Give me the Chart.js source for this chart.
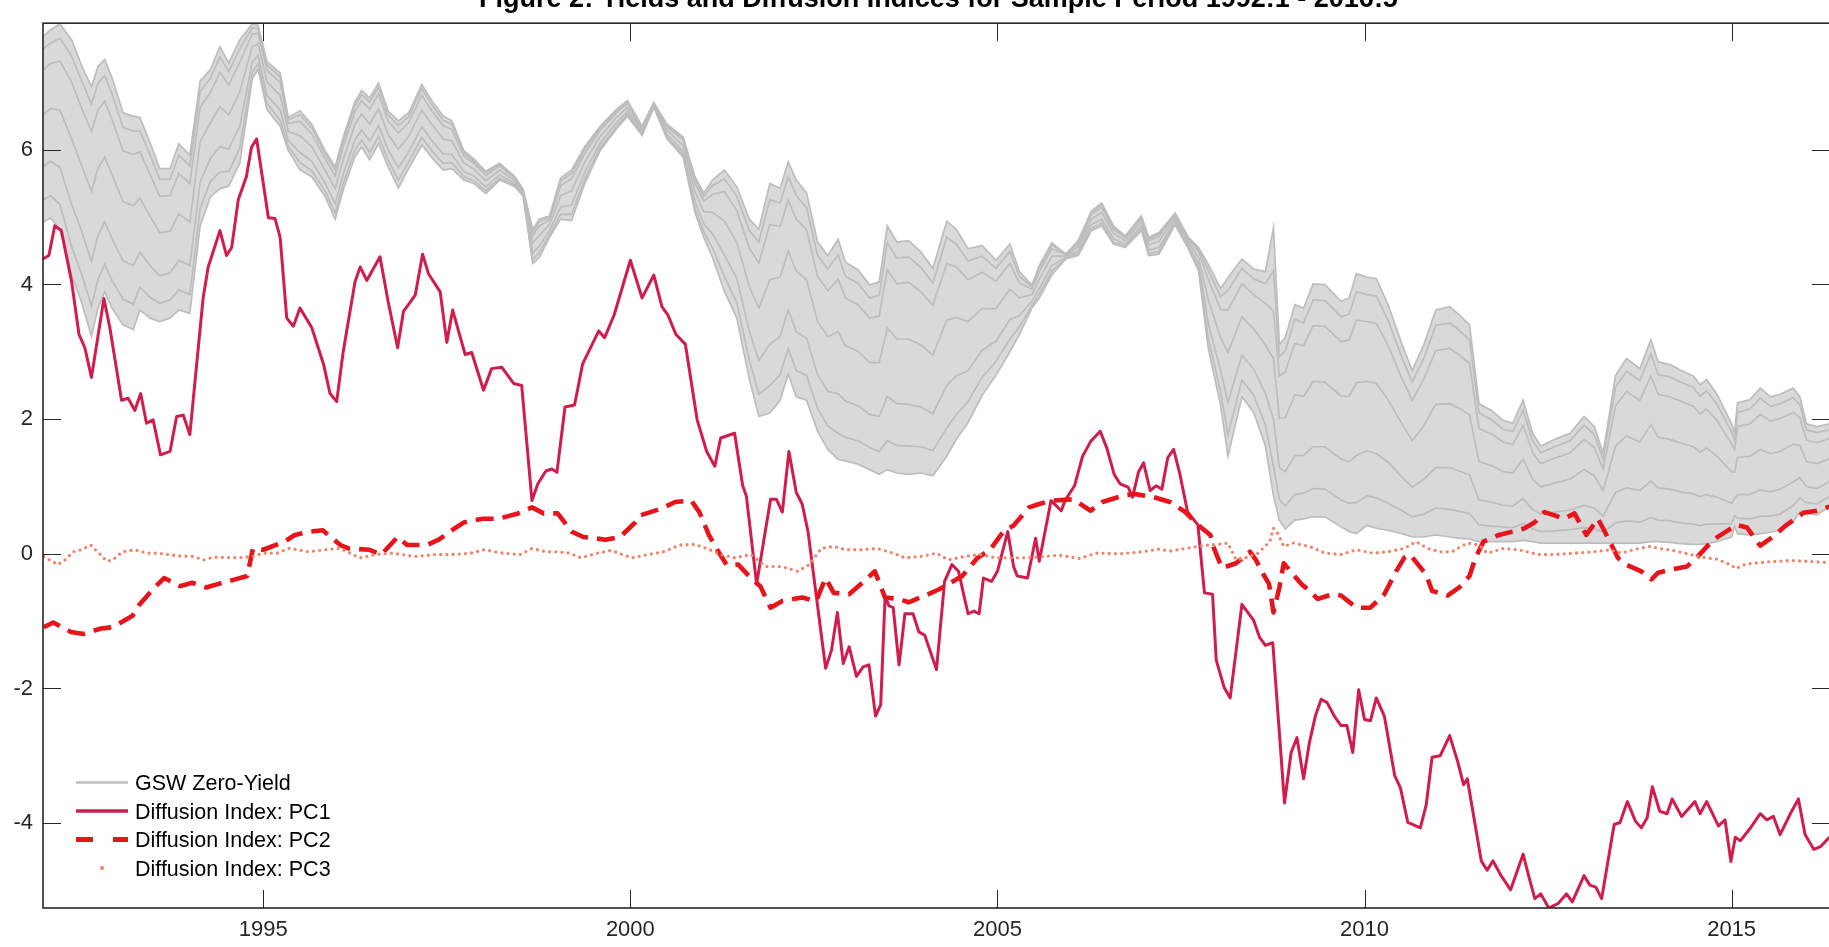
<!DOCTYPE html>
<html>
<head>
<meta charset="utf-8">
<script src="https://cdn.jsdelivr.net/npm/chart.js@4.4.1/dist/chart.umd.min.js"></script>
<style>
  html, body { margin: 0; padding: 0; background: #ffffff; overflow: hidden; }
  #chart { position: absolute; left: 0; top: 0; }
</style>
</head>
<body>
<canvas id="chart" width="1840" height="947" style="width:1840px;height:947px"></canvas>
<script>
// ---- axis ticks ----
const xTickYears = [1995, 2000, 2005, 2010, 2015];
const yTickValues = [-4, -2, 0, 2, 4, 6];

const titleText = 'Figure 2: Yields and Diffusion Indices for Sample Period 1992:1 - 2016:5';

// ---- GSW zero-coupon yields (percent), shortest to longest maturity ----
const yieldDates = [
  1992.00, 1992.10, 1992.23, 1992.39, 1992.53, 1992.66, 1992.75, 1992.84, 1992.94, 1993.09,
  1993.23, 1993.32, 1993.46, 1993.59, 1993.73, 1993.85, 1994.00, 1994.14, 1994.28, 1994.41,
  1994.53, 1994.68, 1994.85, 1994.93, 1995.05, 1995.23, 1995.34, 1995.50, 1995.66, 1995.84,
  1995.98, 1996.09, 1996.25, 1996.34, 1996.45, 1996.57, 1996.70, 1996.84, 1996.98, 1997.16,
  1997.30, 1997.45, 1997.57, 1997.73, 1997.87, 1998.03, 1998.22, 1998.43, 1998.54, 1998.67,
  1998.76, 1998.90, 1999.05, 1999.20, 1999.38, 1999.59, 1999.81, 1999.96, 2000.16, 2000.32,
  2000.50, 2000.72, 2000.88, 2001.00, 2001.12, 2001.28, 2001.45, 2001.62, 2001.75, 2001.90,
  2002.04, 2002.15, 2002.26, 2002.40, 2002.55, 2002.69, 2002.83, 2002.93, 2003.10, 2003.26,
  2003.39, 2003.50, 2003.63, 2003.79, 2003.96, 2004.12, 2004.31, 2004.44, 2004.60, 2004.79,
  2004.98, 2005.17, 2005.30, 2005.47, 2005.57, 2005.74, 2005.93, 2006.10, 2006.28, 2006.42,
  2006.58, 2006.74, 2006.96, 2007.06, 2007.20, 2007.42, 2007.60, 2007.74, 2007.87, 2008.04,
  2008.14, 2008.33, 2008.49, 2008.65, 2008.76, 2008.84, 2008.92, 2009.05, 2009.17, 2009.30,
  2009.46, 2009.68, 2009.79, 2009.89, 2010.03, 2010.16, 2010.32, 2010.51, 2010.65, 2010.81,
  2010.97, 2011.16, 2011.29, 2011.43, 2011.56, 2011.73, 2011.89, 2012.02, 2012.16, 2012.29,
  2012.40, 2012.59, 2012.80, 2012.99, 2013.13, 2013.25, 2013.42, 2013.57, 2013.75, 2013.90,
  2014.00, 2014.16, 2014.30, 2014.48, 2014.57, 2014.66, 2014.80, 2015.00, 2015.04, 2015.08,
  2015.25, 2015.39, 2015.53, 2015.66, 2015.84, 2015.93, 2016.02, 2016.16, 2016.33
];

const yieldShort = [
  4.92, 4.99, 4.82, 4.14, 3.72, 3.23, 3.65, 3.89, 3.65, 3.40,
  3.33, 3.62, 3.50, 3.45, 3.50, 3.62, 3.57, 4.87, 5.30, 5.42,
  5.46, 5.80, 7.05, 7.20, 6.60, 6.35, 5.99, 5.70, 5.60, 5.31,
  4.97, 5.41, 5.90, 6.04, 5.85, 6.09, 5.75, 5.43, 5.72, 6.07,
  5.88, 5.70, 5.72, 5.55, 5.50, 5.35, 5.55, 5.45, 5.31, 4.31,
  4.40, 4.70, 4.97, 4.95, 5.50, 5.99, 6.31, 6.50, 6.21, 6.63,
  6.16, 5.89, 5.07, 4.70, 4.40, 3.90, 3.50, 2.60, 2.04, 2.09,
  2.28, 2.67, 2.33, 2.28, 1.82, 1.55, 1.40, 1.38, 1.33, 1.25,
  1.18, 1.25, 1.20, 1.18, 1.20, 1.16, 1.45, 1.70, 1.95, 2.35,
  2.65, 3.00, 3.26, 3.65, 3.80, 4.14, 4.38, 4.43, 4.80, 4.87,
  4.60, 4.55, 4.80, 4.43, 4.45, 4.89, 4.53, 4.20, 3.06, 2.20,
  1.45, 2.33, 2.10, 1.60, 0.86, 0.50, 0.37, 0.50, 0.52, 0.55,
  0.55, 0.40, 0.33, 0.30, 0.42, 0.38, 0.35, 0.30, 0.25, 0.25,
  0.28, 0.25, 0.23, 0.22, 0.18, 0.18, 0.18, 0.18, 0.20, 0.18,
  0.16, 0.16, 0.16, 0.16, 0.16, 0.16, 0.16, 0.16, 0.16, 0.18,
  0.18, 0.17, 0.15, 0.14, 0.14, 0.15, 0.18, 0.25, 0.40, 0.30,
  0.28, 0.30, 0.32, 0.35, 0.48, 0.62, 0.60, 0.58, 0.70
];

const yieldMid0 = [
  5.25, 5.32, 5.19, 4.56, 4.14, 3.68, 4.08, 4.30, 4.06, 3.78,
  3.71, 3.96, 3.81, 3.72, 3.77, 3.92, 3.85, 5.13, 5.53, 5.67,
  5.68, 6.02, 7.15, 7.28, 6.69, 6.44, 6.05, 5.81, 5.69, 5.39,
  5.06, 5.50, 6.00, 6.14, 5.96, 6.20, 5.85, 5.55, 5.82, 6.18,
  5.98, 5.80, 5.81, 5.60, 5.54, 5.39, 5.58, 5.47, 5.32, 4.37,
  4.47, 4.74, 5.04, 5.04, 5.57, 6.03, 6.34, 6.53, 6.23, 6.64,
  6.19, 5.93, 5.13, 4.78, 4.54, 4.12, 3.73, 2.88, 2.37, 2.50,
  2.66, 3.05, 2.72, 2.65, 2.16, 1.90, 1.79, 1.73, 1.68, 1.58,
  1.52, 1.68, 1.61, 1.60, 1.59, 1.53, 1.87, 2.07, 2.26, 2.62,
  2.86, 3.19, 3.37, 3.69, 3.86, 4.20, 4.39, 4.46, 4.83, 4.91,
  4.63, 4.57, 4.83, 4.46, 4.49, 4.91, 4.55, 4.24, 3.21, 2.41,
  1.77, 2.58, 2.36, 1.91, 1.30, 0.81, 0.71, 0.88, 0.90, 0.97,
  0.96, 0.80, 0.75, 0.76, 0.86, 0.83, 0.75, 0.64, 0.55, 0.59,
  0.68, 0.66, 0.63, 0.60, 0.43, 0.41, 0.40, 0.39, 0.45, 0.37,
  0.33, 0.34, 0.36, 0.39, 0.37, 0.32, 0.46, 0.49, 0.47, 0.54,
  0.50, 0.49, 0.46, 0.44, 0.42, 0.44, 0.44, 0.45, 0.57, 0.53,
  0.52, 0.56, 0.56, 0.59, 0.72, 0.83, 0.76, 0.74, 0.85
];

const yieldMid1 = [
  5.75, 5.83, 5.74, 5.19, 4.78, 4.34, 4.73, 4.93, 4.68, 4.35,
  4.28, 4.48, 4.28, 4.13, 4.17, 4.36, 4.28, 5.52, 5.87, 6.05,
  6.01, 6.35, 7.30, 7.40, 6.81, 6.59, 6.14, 5.96, 5.83, 5.51,
  5.20, 5.64, 6.15, 6.29, 6.13, 6.36, 6.00, 5.73, 5.97, 6.34,
  6.13, 5.94, 5.93, 5.68, 5.61, 5.45, 5.63, 5.50, 5.34, 4.46,
  4.57, 4.80, 5.15, 5.18, 5.67, 6.10, 6.40, 6.57, 6.25, 6.65,
  6.23, 5.98, 5.23, 4.90, 4.75, 4.44, 4.09, 3.31, 2.87, 3.11,
  3.23, 3.62, 3.30, 3.20, 2.66, 2.41, 2.38, 2.27, 2.20, 2.07,
  2.04, 2.34, 2.23, 2.22, 2.18, 2.08, 2.50, 2.64, 2.72, 3.02,
  3.16, 3.48, 3.54, 3.75, 3.94, 4.28, 4.40, 4.50, 4.89, 4.97,
  4.68, 4.60, 4.87, 4.51, 4.55, 4.94, 4.58, 4.31, 3.43, 2.72,
  2.25, 2.95, 2.74, 2.38, 2.00, 1.28, 1.22, 1.46, 1.46, 1.59,
  1.59, 1.41, 1.37, 1.46, 1.53, 1.49, 1.36, 1.14, 0.99, 1.11,
  1.28, 1.28, 1.23, 1.17, 0.80, 0.77, 0.72, 0.71, 0.82, 0.66,
  0.59, 0.62, 0.65, 0.72, 0.68, 0.56, 0.91, 0.98, 0.94, 1.08,
  0.98, 0.96, 0.92, 0.89, 0.85, 0.88, 0.84, 0.75, 0.82, 0.88,
  0.88, 0.95, 0.92, 0.96, 1.07, 1.13, 1.00, 0.97, 1.07
];

const yieldMid2 = [
  6.52, 6.61, 6.59, 6.16, 5.76, 5.38, 5.73, 5.89, 5.63, 5.23,
  5.17, 5.28, 5.01, 4.77, 4.79, 5.05, 4.93, 6.12, 6.40, 6.64,
  6.52, 6.86, 7.53, 7.58, 7.01, 6.81, 6.27, 6.21, 6.05, 5.70,
  5.42, 5.86, 6.38, 6.53, 6.38, 6.61, 6.23, 6.01, 6.20, 6.59,
  6.37, 6.16, 6.13, 5.81, 5.71, 5.54, 5.70, 5.54, 5.37, 4.61,
  4.73, 4.89, 5.32, 5.39, 5.82, 6.20, 6.48, 6.63, 6.29, 6.67,
  6.29, 6.06, 5.38, 5.08, 5.07, 4.94, 4.63, 3.97, 3.65, 4.07,
  4.11, 4.50, 4.20, 4.07, 3.45, 3.22, 3.30, 3.09, 3.01, 2.84,
  2.84, 3.35, 3.19, 3.19, 3.10, 2.95, 3.47, 3.51, 3.45, 3.64,
  3.64, 3.93, 3.80, 3.85, 4.08, 4.42, 4.42, 4.56, 4.97, 5.07,
  4.76, 4.65, 4.93, 4.59, 4.64, 4.99, 4.63, 4.40, 3.78, 3.21,
  2.99, 3.52, 3.34, 3.10, 2.90, 2.01, 2.02, 2.36, 2.34, 2.56,
  2.55, 2.34, 2.34, 2.54, 2.56, 2.53, 2.29, 1.93, 1.68, 1.91,
  2.22, 2.23, 2.16, 2.06, 1.37, 1.31, 1.22, 1.20, 1.41, 1.11,
  0.99, 1.05, 1.11, 1.25, 1.16, 0.94, 1.60, 1.75, 1.66, 1.92,
  1.73, 1.70, 1.65, 1.59, 1.51, 1.57, 1.45, 1.22, 1.21, 1.43,
  1.45, 1.55, 1.49, 1.52, 1.63, 1.61, 1.37, 1.34, 1.41
];

const yieldMid3 = [
  7.18, 7.28, 7.32, 7.00, 6.61, 6.27, 6.59, 6.72, 6.45, 5.98,
  5.93, 5.97, 5.63, 5.31, 5.32, 5.65, 5.50, 6.63, 6.85, 7.15,
  6.96, 7.30, 7.72, 7.73, 7.18, 7.00, 6.39, 6.42, 6.24, 5.87,
  5.61, 6.05, 6.57, 6.73, 6.60, 6.83, 6.43, 6.25, 6.40, 6.81,
  6.57, 6.36, 6.30, 5.91, 5.80, 5.62, 5.76, 5.57, 5.39, 4.73,
  4.87, 4.96, 5.47, 5.57, 5.95, 6.29, 6.55, 6.69, 6.32, 6.69,
  6.34, 6.14, 5.50, 5.24, 5.34, 5.38, 5.10, 4.54, 4.32, 4.89,
  4.86, 5.25, 4.97, 4.81, 4.12, 3.91, 4.08, 3.80, 3.70, 3.50,
  3.53, 4.22, 4.01, 4.03, 3.89, 3.69, 4.31, 4.26, 4.07, 4.18,
  4.05, 4.31, 4.02, 3.93, 4.19, 4.53, 4.44, 4.61, 5.04, 5.15,
  4.82, 4.69, 4.98, 4.65, 4.71, 5.03, 4.67, 4.49, 4.08, 3.63,
  3.62, 4.01, 3.85, 3.72, 3.60, 2.64, 2.70, 3.12, 3.09, 3.39,
  3.38, 3.15, 3.18, 3.47, 3.45, 3.42, 3.10, 2.60, 2.28, 2.60,
  3.02, 3.05, 2.95, 2.83, 1.86, 1.78, 1.66, 1.62, 1.91, 1.50,
  1.34, 1.42, 1.50, 1.70, 1.58, 1.26, 2.20, 2.41, 2.28, 2.64,
  2.37, 2.33, 2.27, 2.19, 2.08, 2.15, 1.98, 1.63, 1.55, 1.89,
  1.93, 2.07, 1.97, 2.01, 2.10, 2.02, 1.69, 1.65, 1.71
];

const yieldMid4 = [
  7.49, 7.58, 7.66, 7.39, 7.01, 6.68, 6.99, 7.10, 6.83, 6.33,
  6.28, 6.28, 5.92, 5.56, 5.56, 5.92, 5.76, 6.87, 7.06, 7.38,
  7.16, 7.50, 7.81, 7.80, 7.26, 7.08, 6.45, 6.52, 6.33, 5.94,
  5.70, 6.14, 6.66, 6.82, 6.71, 6.93, 6.52, 6.36, 6.49, 6.91,
  6.66, 6.44, 6.38, 5.96, 5.83, 5.66, 5.78, 5.59, 5.40, 4.78,
  4.93, 5.00, 5.54, 5.65, 6.01, 6.32, 6.58, 6.71, 6.34, 6.70,
  6.36, 6.17, 5.56, 5.31, 5.47, 5.57, 5.31, 4.80, 4.63, 5.26,
  5.21, 5.60, 5.32, 5.14, 4.43, 4.23, 4.44, 4.12, 4.02, 3.80,
  3.84, 4.62, 4.39, 4.41, 4.25, 4.02, 4.70, 4.60, 4.35, 4.42,
  4.24, 4.49, 4.12, 3.97, 4.25, 4.59, 4.45, 4.63, 5.07, 5.19,
  4.85, 4.71, 5.00, 4.68, 4.75, 5.05, 4.69, 4.53, 4.21, 3.82,
  3.91, 4.24, 4.08, 4.01, 4.20, 2.93, 3.01, 3.48, 3.43, 3.77,
  3.76, 3.52, 3.56, 3.89, 3.85, 3.83, 3.47, 2.91, 2.55, 2.91,
  3.39, 3.43, 3.32, 3.18, 2.09, 1.99, 1.85, 1.82, 2.13, 1.68,
  1.50, 1.59, 1.68, 1.91, 1.77, 1.41, 2.48, 2.71, 2.57, 2.97,
  2.66, 2.63, 2.55, 2.47, 2.34, 2.42, 2.22, 1.81, 1.70, 2.10,
  2.15, 2.31, 2.19, 2.23, 2.32, 2.21, 1.84, 1.80, 1.84
];

const yieldLong = [
  7.68, 7.78, 7.87, 7.63, 7.24, 6.94, 7.24, 7.34, 7.07, 6.55,
  6.50, 6.48, 6.10, 5.72, 5.72, 6.09, 5.92, 7.02, 7.19, 7.53,
  7.29, 7.63, 7.87, 7.85, 7.31, 7.14, 6.48, 6.58, 6.38, 5.99,
  5.75, 6.19, 6.72, 6.88, 6.77, 6.99, 6.58, 6.43, 6.55, 6.97,
  6.72, 6.50, 6.43, 5.99, 5.86, 5.68, 5.80, 5.60, 5.41, 4.82,
  4.97, 5.02, 5.58, 5.70, 6.05, 6.35, 6.60, 6.73, 6.35, 6.70,
  6.38, 6.19, 5.60, 5.36, 5.55, 5.70, 5.45, 4.97, 4.82, 5.50,
  5.43, 5.82, 5.55, 5.36, 4.63, 4.43, 4.67, 4.33, 4.22, 3.99,
  4.04, 4.87, 4.63, 4.65, 4.48, 4.24, 4.94, 4.82, 4.53, 4.58,
  4.36, 4.60, 4.19, 3.99, 4.28, 4.62, 4.45, 4.65, 5.09, 5.21,
  4.87, 4.72, 5.02, 4.70, 4.77, 5.06, 4.70, 4.55, 4.30, 3.94,
  4.10, 4.38, 4.23, 4.19, 4.84, 3.11, 3.21, 3.70, 3.65, 4.01,
  4.00, 3.75, 3.80, 4.16, 4.11, 4.09, 3.70, 3.11, 2.72, 3.11,
  3.62, 3.67, 3.55, 3.40, 2.23, 2.13, 1.98, 1.94, 2.28, 1.79,
  1.60, 1.70, 1.79, 2.04, 1.89, 1.50, 2.65, 2.90, 2.75, 3.18,
  2.85, 2.81, 2.73, 2.64, 2.51, 2.59, 2.37, 1.93, 1.80, 2.24,
  2.29, 2.46, 2.33, 2.37, 2.46, 2.33, 1.93, 1.89, 1.93
];

// ---- diffusion indices: [date, value] ----
const pc1 = [
  [1992.00, 4.38], [1992.08, 4.43], [1992.16, 4.87], [1992.25, 4.80], [1992.39, 4.04],
  [1992.49, 3.26], [1992.57, 3.06], [1992.66, 2.62], [1992.83, 3.79], [1992.91, 3.36],
  [1993.07, 2.28], [1993.16, 2.31], [1993.25, 2.13], [1993.33, 2.38], [1993.41, 1.94],
  [1993.50, 1.99], [1993.60, 1.47], [1993.73, 1.52], [1993.82, 2.04], [1993.91, 2.06],
  [1994.00, 1.77], [1994.18, 3.79], [1994.25, 4.26], [1994.41, 4.80], [1994.50, 4.43],
  [1994.57, 4.55], [1994.66, 5.26], [1994.77, 5.60], [1994.84, 6.04], [1994.91, 6.16],
  [1995.07, 4.99], [1995.16, 4.98], [1995.23, 4.70], [1995.32, 3.50], [1995.41, 3.38],
  [1995.50, 3.65], [1995.66, 3.36], [1995.82, 2.82], [1995.91, 2.38], [1996.00, 2.26],
  [1996.09, 3.01], [1996.25, 4.04], [1996.32, 4.26], [1996.41, 4.06], [1996.59, 4.41],
  [1996.70, 3.75], [1996.83, 3.06], [1996.91, 3.60], [1997.07, 3.84], [1997.17, 4.45],
  [1997.25, 4.16], [1997.41, 3.89], [1997.50, 3.14], [1997.58, 3.62], [1997.75, 2.96],
  [1997.84, 2.99], [1998.00, 2.43], [1998.11, 2.75], [1998.25, 2.77], [1998.41, 2.53],
  [1998.52, 2.50], [1998.66, 0.79], [1998.74, 1.04], [1998.85, 1.23], [1998.93, 1.26],
  [1999.00, 1.21], [1999.11, 2.18], [1999.24, 2.21], [1999.35, 2.82], [1999.57, 3.31],
  [1999.65, 3.21], [1999.78, 3.55], [2000.00, 4.36], [2000.16, 3.80], [2000.32, 4.14],
  [2000.43, 3.67], [2000.51, 3.55], [2000.62, 3.26], [2000.75, 3.11], [2000.91, 1.99],
  [2001.04, 1.52], [2001.15, 1.30], [2001.23, 1.72], [2001.42, 1.79], [2001.53, 1.01],
  [2001.58, 0.86], [2001.72, -0.45], [2001.91, 0.81], [2001.99, 0.81], [2002.07, 0.62],
  [2002.16, 1.52], [2002.26, 0.91], [2002.34, 0.74], [2002.42, 0.33], [2002.53, -0.60],
  [2002.66, -1.70], [2002.74, -1.43], [2002.82, -0.87], [2002.90, -1.63], [2002.98, -1.38],
  [2003.08, -1.82], [2003.17, -1.68], [2003.25, -1.65], [2003.34, -2.41], [2003.41, -2.24],
  [2003.47, -0.63], [2003.52, -0.77], [2003.58, -0.80], [2003.66, -1.65], [2003.74, -0.89],
  [2003.85, -0.89], [2003.93, -1.16], [2004.01, -1.21], [2004.17, -1.72], [2004.28, -0.41],
  [2004.38, -0.16], [2004.47, -0.26], [2004.55, -0.65], [2004.60, -0.89], [2004.68, -0.85],
  [2004.75, -0.89], [2004.81, -0.36], [2004.92, -0.41], [2005.00, -0.26], [2005.14, 0.33],
  [2005.22, -0.19], [2005.27, -0.33], [2005.41, -0.36], [2005.52, 0.23], [2005.57, -0.11],
  [2005.73, 0.79], [2005.87, 0.64], [2005.92, 0.79], [2006.05, 1.01], [2006.16, 1.45],
  [2006.27, 1.67], [2006.40, 1.82], [2006.49, 1.57], [2006.59, 1.18], [2006.67, 1.04],
  [2006.78, 0.99], [2006.84, 0.84], [2006.92, 1.21], [2006.99, 1.35], [2007.08, 0.94],
  [2007.16, 1.01], [2007.24, 0.96], [2007.32, 1.43], [2007.40, 1.55], [2007.48, 1.21],
  [2007.59, 0.62], [2007.73, 0.43], [2007.82, -0.58], [2007.93, -0.60], [2007.98, -1.58],
  [2008.09, -1.99], [2008.17, -2.14], [2008.33, -0.75], [2008.49, -0.99], [2008.57, -1.24],
  [2008.65, -1.36], [2008.75, -1.32], [2008.91, -3.70], [2009.00, -2.95], [2009.08, -2.73],
  [2009.17, -3.34], [2009.25, -2.80], [2009.33, -2.41], [2009.41, -2.16], [2009.49, -2.21],
  [2009.60, -2.43], [2009.68, -2.55], [2009.76, -2.55], [2009.84, -2.95], [2009.92, -2.02],
  [2010.00, -2.46], [2010.08, -2.48], [2010.16, -2.14], [2010.27, -2.41], [2010.41, -3.29],
  [2010.49, -3.48], [2010.59, -3.99], [2010.76, -4.07], [2010.84, -3.73], [2010.92, -3.02],
  [2011.03, -3.00], [2011.16, -2.70], [2011.27, -3.09], [2011.35, -3.43], [2011.40, -3.34],
  [2011.59, -4.56], [2011.67, -4.70], [2011.75, -4.56], [2011.86, -4.78], [2011.99, -4.99],
  [2012.16, -4.46], [2012.24, -4.80], [2012.32, -5.12], [2012.40, -5.05], [2012.51, -5.26],
  [2012.64, -5.19], [2012.75, -5.05], [2012.83, -5.17], [2012.99, -4.78], [2013.07, -4.92],
  [2013.15, -4.95], [2013.23, -5.12], [2013.40, -4.02], [2013.48, -3.99], [2013.58, -3.68],
  [2013.69, -3.97], [2013.77, -4.07], [2013.85, -3.92], [2013.92, -3.46], [2014.02, -3.82],
  [2014.12, -3.86], [2014.19, -3.64], [2014.32, -3.90], [2014.50, -3.68], [2014.57, -3.86],
  [2014.66, -3.68], [2014.82, -4.04], [2014.91, -3.95], [2014.99, -4.57], [2015.05, -4.21],
  [2015.12, -4.26], [2015.25, -4.08], [2015.39, -3.86], [2015.48, -3.95], [2015.57, -3.90],
  [2015.66, -4.17], [2015.80, -3.86], [2015.91, -3.64], [2016.00, -4.17], [2016.12, -4.39],
  [2016.21, -4.35], [2016.33, -4.21]
];

const pc2 = [
  [1992.01, -1.09], [1992.14, -1.02], [1992.38, -1.16], [1992.55, -1.19], [1992.79, -1.11],
  [1992.95, -1.09], [1993.22, -0.92], [1993.30, -0.77], [1993.52, -0.50], [1993.65, -0.36],
  [1993.87, -0.48], [1994.03, -0.43], [1994.22, -0.50], [1994.38, -0.45], [1994.62, -0.38],
  [1994.78, -0.33], [1994.86, 0.08], [1995.00, 0.06], [1995.29, 0.18], [1995.43, 0.28],
  [1995.64, 0.33], [1995.81, 0.35], [1996.05, 0.13], [1996.16, 0.08], [1996.45, 0.06],
  [1996.61, -0.01], [1996.83, 0.25], [1996.96, 0.13], [1997.23, 0.13], [1997.39, 0.21],
  [1997.61, 0.38], [1997.74, 0.47], [1997.99, 0.52], [1998.20, 0.52], [1998.47, 0.60],
  [1998.66, 0.69], [1998.82, 0.60], [1999.01, 0.60], [1999.20, 0.33], [1999.36, 0.25],
  [1999.66, 0.21], [1999.86, 0.25], [2000.07, 0.47], [2000.13, 0.57], [2000.42, 0.67],
  [2000.61, 0.77], [2000.83, 0.79], [2000.94, 0.62], [2001.07, 0.28], [2001.20, 0.03],
  [2001.31, -0.16], [2001.47, -0.16], [2001.64, -0.36], [2001.77, -0.48], [2001.91, -0.80],
  [2002.07, -0.70], [2002.34, -0.65], [2002.53, -0.70], [2002.66, -0.36], [2002.77, -0.58],
  [2002.98, -0.60], [2003.14, -0.45], [2003.33, -0.26], [2003.47, -0.65], [2003.66, -0.67],
  [2003.79, -0.72], [2004.06, -0.60], [2004.20, -0.53], [2004.33, -0.45], [2004.52, -0.33],
  [2004.73, -0.06], [2004.90, 0.06], [2005.08, 0.33], [2005.22, 0.42], [2005.43, 0.69],
  [2005.57, 0.74], [2005.73, 0.79], [2006.03, 0.81], [2006.27, 0.64], [2006.43, 0.77],
  [2006.70, 0.86], [2006.86, 0.89], [2007.13, 0.84], [2007.35, 0.77], [2007.56, 0.62],
  [2007.73, 0.43], [2007.90, 0.28], [2007.95, 0.08], [2008.06, -0.21], [2008.25, -0.14],
  [2008.44, 0.03], [2008.52, -0.09], [2008.60, -0.26], [2008.70, -0.45], [2008.76, -0.87],
  [2008.84, -0.50], [2008.90, -0.14], [2009.03, -0.31], [2009.14, -0.45], [2009.25, -0.55],
  [2009.36, -0.67], [2009.57, -0.60], [2009.68, -0.62], [2009.89, -0.80], [2010.08, -0.80],
  [2010.27, -0.60], [2010.43, -0.26], [2010.54, -0.06], [2010.62, -0.01], [2010.84, -0.31],
  [2010.92, -0.55], [2011.13, -0.62], [2011.29, -0.50], [2011.43, -0.33], [2011.51, -0.06],
  [2011.62, 0.18], [2011.83, 0.28], [2012.02, 0.33], [2012.18, 0.38], [2012.32, 0.47],
  [2012.45, 0.62], [2012.59, 0.57], [2012.72, 0.52], [2012.86, 0.60], [2013.02, 0.28],
  [2013.10, 0.40], [2013.18, 0.52], [2013.32, 0.23], [2013.45, -0.06], [2013.56, -0.16],
  [2013.77, -0.26], [2013.91, -0.38], [2014.00, -0.28], [2014.19, -0.23], [2014.39, -0.19],
  [2014.53, -0.05], [2014.75, 0.21], [2014.94, 0.34], [2015.07, 0.43], [2015.21, 0.39],
  [2015.39, 0.12], [2015.57, 0.26], [2015.75, 0.43], [2015.98, 0.61], [2016.16, 0.64],
  [2016.33, 0.70]
];

const pc3 = [
  [1992.01, -0.04], [1992.12, -0.11], [1992.20, -0.16], [1992.30, -0.09], [1992.41, 0.03],
  [1992.52, 0.06], [1992.65, 0.13], [1992.76, 0.01], [1992.87, -0.11], [1992.95, -0.09],
  [1993.08, 0.03], [1993.25, 0.06], [1993.41, 0.01], [1993.57, 0.01], [1993.84, -0.03],
  [1994.05, -0.04], [1994.19, -0.09], [1994.32, -0.05], [1994.65, -0.06], [1994.86, -0.04],
  [1995.00, 0.01], [1995.19, 0.01], [1995.35, 0.08], [1995.62, 0.03], [1995.83, 0.06],
  [1996.05, 0.08], [1996.18, 0.01], [1996.32, -0.06], [1996.53, -0.01], [1996.75, 0.01],
  [1997.07, -0.04], [1997.34, -0.01], [1997.61, -0.01], [1997.83, 0.01], [1998.01, 0.06],
  [1998.26, 0.01], [1998.50, -0.01], [1998.66, 0.08], [1998.85, 0.03], [1999.01, 0.03],
  [1999.17, 0.01], [1999.33, -0.06], [1999.55, 0.01], [1999.74, 0.05], [2000.02, -0.06],
  [2000.24, -0.01], [2000.45, 0.03], [2000.67, 0.13], [2000.88, 0.14], [2001.04, 0.08],
  [2001.23, -0.01], [2001.42, -0.06], [2001.64, -0.01], [2001.85, -0.19], [2002.07, -0.19],
  [2002.28, -0.26], [2002.44, -0.16], [2002.60, 0.08], [2002.77, 0.11], [2002.93, 0.06],
  [2003.14, 0.06], [2003.36, 0.08], [2003.58, 0.01], [2003.74, -0.06], [2003.95, -0.04],
  [2004.17, 0.01], [2004.33, -0.09], [2004.55, -0.04], [2004.76, -0.01], [2004.98, -0.06],
  [2005.19, -0.06], [2005.41, -0.06], [2005.62, -0.04], [2005.84, -0.02], [2006.12, -0.07],
  [2006.34, 0.01], [2006.66, 0.00], [2006.98, 0.03], [2007.19, 0.07], [2007.35, 0.04],
  [2007.56, 0.08], [2007.78, 0.12], [2007.99, 0.14], [2008.14, 0.16], [2008.25, -0.09],
  [2008.38, -0.06], [2008.55, 0.01], [2008.71, 0.18], [2008.76, 0.38], [2008.82, 0.30],
  [2008.90, 0.11], [2009.03, 0.16], [2009.25, 0.11], [2009.46, 0.01], [2009.68, -0.01],
  [2009.89, 0.06], [2010.11, 0.01], [2010.32, 0.03], [2010.54, 0.08], [2010.70, 0.18],
  [2010.86, 0.08], [2011.03, 0.03], [2011.19, 0.03], [2011.40, 0.16], [2011.56, 0.13],
  [2011.67, 0.01], [2011.89, 0.08], [2012.10, 0.06], [2012.37, -0.01], [2012.59, -0.01],
  [2012.86, 0.01], [2013.13, 0.03], [2013.34, 0.06], [2013.50, 0.01], [2013.66, 0.06],
  [2013.88, 0.11], [2014.01, 0.08], [2014.20, 0.05], [2014.40, 0.00], [2014.60, -0.05],
  [2014.80, -0.08], [2015.00, -0.17], [2015.05, -0.22], [2015.20, -0.15], [2015.50, -0.12],
  [2015.80, -0.10], [2016.00, -0.11], [2016.33, -0.13]
];

// ---- helpers ----
const fromPairs = pairs => pairs.map(([x, y]) => ({ x, y }));
const fromColumn = values => values.map((y, i) => ({ x: yieldDates[i], y }));

const AXIS_COLOR = '#262626';
const FONT = '"Liberation Sans", Arial, Helvetica, sans-serif';
const YIELD_LINE = '#bdbdbd';
const YIELD_FILL = '#d9d9d9';

const yieldLine = (label, values, extra) => Object.assign({
  label,
  data: fromColumn(values),
  borderColor: YIELD_LINE,
  backgroundColor: YIELD_FILL,
  borderWidth: 1.7,
  pointRadius: 0,
  fill: false,
  order: 3
}, extra || {});

const datasets = [
  {
    label: 'Diffusion Index: PC3',
    data: fromPairs(pc3),
    borderColor: '#f08468',
    borderWidth: 3.3,
    borderDash: [0, 6.2],
    borderCapStyle: 'round',
    pointRadius: 0,
    fill: false,
    order: 0,
    legendKind: 'dot'
  },
  {
    label: 'Diffusion Index: PC2',
    data: fromPairs(pc2),
    borderColor: '#e8141c',
    borderWidth: 4.6,
    borderDash: [18, 9],
    borderCapStyle: 'butt',
    borderJoinStyle: 'round',
    pointRadius: 0,
    fill: false,
    order: 1,
    legendKind: 'dash'
  },
  {
    label: 'Diffusion Index: PC1',
    data: fromPairs(pc1),
    borderColor: '#d11d4b',
    borderWidth: 3,
    borderJoinStyle: 'round',
    pointRadius: 0,
    fill: false,
    order: 2,
    legendKind: 'line'
  },
  yieldLine('GSW Zero-Yield', yieldLong, { legendKind: 'line' }),
  yieldLine('yield-mid-4', yieldMid4),
  yieldLine('yield-mid-3', yieldMid3),
  yieldLine('yield-mid-2', yieldMid2),
  yieldLine('yield-mid-1', yieldMid1),
  yieldLine('yield-mid-0', yieldMid0),
  yieldLine('yield-short', yieldShort, { fill: 3, order: 4 })
];

const legendOrder = [3, 2, 1, 0];

// box with inward ticks on all four sides
const frameTicks = {
  id: 'frameTicks',
  afterDatasetsDraw(chart) {
    const { ctx, chartArea: a, scales: { x, y } } = chart;
    const len = 18;
    ctx.save();
    ctx.strokeStyle = AXIS_COLOR;
    ctx.lineWidth = 1;
    ctx.beginPath();
    x.ticks.forEach(t => {
      const px = Math.round(x.getPixelForValue(t.value)) + 0.5;
      ctx.moveTo(px, a.bottom); ctx.lineTo(px, a.bottom - len);
      ctx.moveTo(px, a.top); ctx.lineTo(px, a.top + len);
    });
    y.ticks.forEach(t => {
      const py = Math.round(y.getPixelForValue(t.value)) + 0.5;
      ctx.moveTo(a.left, py); ctx.lineTo(a.left + len, py);
      ctx.moveTo(a.right, py); ctx.lineTo(a.right - len, py);
    });
    ctx.stroke();
    ctx.lineWidth = 1.6;
    ctx.strokeRect(a.left, a.top, a.right - a.left, a.bottom - a.top);
    ctx.restore();
  }
};

// title just above the frame
const topTitle = {
  id: 'topTitle',
  afterDraw(chart) {
    const { ctx, chartArea: a } = chart;
    ctx.save();
    ctx.font = 'bold 27px ' + FONT;
    ctx.fillStyle = '#000000';
    ctx.textAlign = 'center';
    ctx.textBaseline = 'alphabetic';
    ctx.fillText(titleText, (a.left + a.right) / 2 + 2, 7);
    ctx.restore();
  }
};

// legend in the lower-left corner of the plot
const cornerLegend = {
  id: 'cornerLegend',
  afterDraw(chart) {
    const { ctx, chartArea: a } = chart;
    const x0 = a.left + 33, x1 = a.left + 85, tx = a.left + 92;
    const rowH = 28.5;
    const firstBaseline = a.bottom - 118;
    ctx.save();
    ctx.font = '21.5px ' + FONT;
    ctx.textAlign = 'left';
    ctx.textBaseline = 'alphabetic';
    legendOrder.forEach((idx, i) => {
      const ds = chart.data.datasets[idx];
      const base = firstBaseline + i * rowH;
      const cy = base - 7.5;
      ctx.strokeStyle = ds.borderColor;
      ctx.fillStyle = ds.borderColor;
      if (ds.legendKind === 'dot') {
        ctx.beginPath();
        ctx.arc((x0 + x1) / 2, cy, 2, 0, Math.PI * 2);
        ctx.fill();
      } else {
        ctx.beginPath();
        ctx.lineWidth = ds.legendKind === 'dash' ? 5 : (idx === 3 ? 2.4 : 3.4);
        ctx.setLineDash(ds.legendKind === 'dash' ? [17, 20] : []);
        ctx.moveTo(x0, cy);
        ctx.lineTo(x1, cy);
        ctx.stroke();
        ctx.setLineDash([]);
      }
      ctx.fillStyle = '#000000';
      ctx.fillText(ds.label, tx, base);
    });
    ctx.restore();
  }
};

new Chart(document.getElementById('chart'), {
  type: 'line',
  data: { datasets },
  plugins: [frameTicks, topTitle, cornerLegend],
  options: {
    responsive: false,
    devicePixelRatio: 1,
    animation: false,
    parsing: true,
    layout: { padding: { left: 0, right: 10, top: 11, bottom: 0 } },
    elements: { line: { tension: 0 }, point: { radius: 0 } },
    plugins: {
      legend: { display: false },
      title: { display: false },
      tooltip: { enabled: false },
      filler: { propagate: false }
    },
    scales: {
      x: {
        type: 'linear',
        min: 1992,
        max: 2016.34,
        afterBuildTicks: s => { s.ticks = xTickYears.map(v => ({ value: v })); },
        afterFit: s => { s.height = 39; },
        grid: { display: false, drawTicks: false },
        border: { display: false },
        ticks: {
          autoSkip: false,
          maxRotation: 0,
          padding: 9,
          color: AXIS_COLOR,
          font: { family: FONT, size: 22 },
          callback: v => String(v)
        }
      },
      y: {
        type: 'linear',
        min: -5.26,
        max: 7.88,
        afterBuildTicks: s => { s.ticks = yTickValues.map(v => ({ value: v })); },
        afterFit: s => { s.width = 43; },
        grid: { display: false, drawTicks: false },
        border: { display: false },
        ticks: {
          padding: 10,
          color: AXIS_COLOR,
          font: { family: FONT, size: 22 },
          callback: v => String(v)
        }
      }
    }
  }
});
</script>
</body>
</html>
